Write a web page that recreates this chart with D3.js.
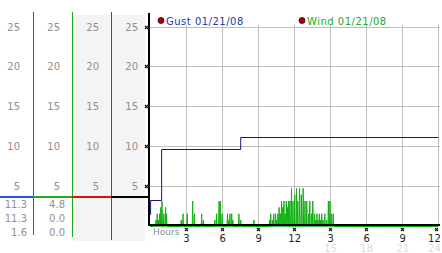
<!DOCTYPE html>
<html><head><meta charset="utf-8">
<script src="https://cdn.jsdelivr.net/npm/d3@7"></script>
<style>html,body{margin:0;padding:0;background:#fff;overflow:hidden}svg{display:block}</style>
</head><body><svg id="c" width="442" height="253"></svg>
<script>
// ---- data ----
const yTicks = [5, 10, 15, 20, 25];
const xTicks = [3, 6, 9, 12, 15, 18, 21, 24];
const xTickLabels = ["3", "6", "9", "12", "3", "6", "9", "12"];
const xTicks24 = [15, 18, 21, 24];
const xTickLabels24 = ["15", "18", "21", "24"];
const legendLabels = ["Gust 01/21/08", "Wind 01/21/08"];
const gustTimes = [0, 0.05, 0.97, 7.55, 24];
const gustValues = [1.6, 3.3, 9.7, 11.3, 11.3];
const windTimes = [0.5, 0.6, 0.7, 0.8, 0.9, 1.0, 1.15, 1.3, 1.38,
  2.6, 2.75, 3.1, 3.55, 3.7, 4.3, 4.45,
  5.4, 5.55, 5.75, 5.85, 6.0, 6.45, 6.55, 6.65, 6.8, 6.9, 7.4, 7.55, 8.65,
  9.95, 10.05, 10.2, 10.3, 10.45, 10.55, 10.65, 10.75, 10.85, 10.95, 11.05,
  11.15, 11.25, 11.35, 11.45, 11.55, 11.65, 11.78, 11.9, 12.05,
  12.2, 12.3, 12.45, 12.6, 12.75, 12.9, 13.05, 13.2, 13.3, 13.45, 13.55,
  13.7, 13.8, 13.9, 14.0, 14.1, 14.2, 14.3, 14.4, 14.55, 14.7, 14.85, 14.98, 15.1, 15.25];
const windValues = [0.8, 1.6, 0.8, 1.6, 2.4, 3.2, 1.6, 2.4, 1.6,
  0.8, 1.6, 1.6, 3.2, 1.6, 1.6, 0.8,
  0.8, 1.6, 3.2, 3.2, 1.6, 1.6, 0.8, 1.6, 1.6, 0.8, 1.6, 0.8, 0.8,
  0.8, 1.6, 0.8, 1.6, 1.6, 0.8, 1.6, 2.4, 1.6, 3.2, 2.4,
  3.2, 1.6, 3.2, 2.4, 3.2, 3.2, 4.8, 3.2, 4.0,
  4.8, 3.2, 4.8, 4.0, 4.8, 3.2, 3.2, 1.6, 3.2, 1.6, 3.2,
  1.6, 0.8, 1.6, 0.8, 1.6, 0.8, 1.6, 0.8, 1.6, 0.8, 3.2, 3.2, 1.6, 1.6];
const readoutGust = ["11.3", "11.3", "1.6"];
const readoutWind = ["4.8", "0.0", "0.0"];

// ---- scales ----
const svg = d3.select("#c");
const FONT = "DejaVu Sans, Verdana, sans-serif";
const W = 442;
const x = d3.scaleLinear().domain([0, 24]).range([150, 438.3]);
const y = d3.scaleLinear().domain([0, 25]).range([226.5, 27.5]);
const crisp = v => Math.round(v) + 0.5;

// ---- left panel ----
svg.append("rect").attr("x", 73).attr("y", 15).attr("width", 72).attr("height", 226).attr("fill", "#f4f4f4");
const colRight = [20, 60, 99, 138];
colRight.forEach(cx => {
  svg.append("g").selectAll("text").data(yTicks).join("text")
    .attr("x", cx).attr("y", d => y(d) + 3)
    .attr("text-anchor", "end").attr("font-family", FONT).attr("font-size", 10)
    .attr("fill", "#909090").text(d => d);
});
const vlines = [{x: 33.5, c: "#2455d8", y2: 235}, {x: 72.5, c: "#22a822", y2: 237}, {x: 111.5, c: "#c42020", y2: 240}];
vlines.forEach(v => svg.append("line").attr("x1", v.x).attr("x2", v.x).attr("y1", 12).attr("y2", v.y2)
  .attr("stroke", v.c).attr("stroke-width", 1));
const hsegs = [{x1: 0, x2: 33, c: "#2455d8"}, {x1: 33, x2: 72, c: "#22aa22"}, {x1: 72, x2: 111, c: "#dd1111"}, {x1: 111, x2: 149, c: "#000"}];
hsegs.forEach(s => svg.append("rect").attr("x", s.x1).attr("y", 196).attr("width", s.x2 - s.x1).attr("height", 2).attr("fill", s.c));
const rowY = [208, 222, 236];
svg.append("g").selectAll("text").data(readoutGust).join("text")
  .attr("x", 27).attr("y", (d, i) => rowY[i]).attr("text-anchor", "end")
  .attr("font-family", FONT).attr("font-size", 10).attr("fill", "#909090").text(d => d);
svg.append("g").selectAll("text").data(readoutWind).join("text")
  .attr("x", 65).attr("y", (d, i) => rowY[i]).attr("text-anchor", "end")
  .attr("font-family", FONT).attr("font-size", 10).attr("fill", "#909090").text(d => d);

// ---- grid ----
svg.append("g").selectAll("line").data(yTicks).join("line")
  .attr("x1", 150).attr("x2", 440).attr("y1", d => crisp(y(d)) - 1).attr("y2", d => crisp(y(d)) - 1)
  .attr("stroke", "#bdbdbd");
svg.append("g").selectAll("line").data(xTicks).join("line")
  .attr("x1", d => crisp(x(d))).attr("x2", d => crisp(x(d))).attr("y1", 25).attr("y2", 226)
  .attr("stroke", "#bdbdbd");

// ---- wind (green) ----
const dt = 0.035;
const windPts = [[0, 0]];
windTimes.forEach((t, i) => { windPts.push([t - dt, 0], [t, windValues[i]], [t + dt, 0]); });
windPts.push([24, 0]);
svg.append("path").datum(windPts)
  .attr("d", d3.line().x(d => x(d[0])).y(d => y(d[1])))
  .attr("fill", "none").attr("stroke", "#10b010").attr("stroke-width", 1);

// ---- gust (blue) ----
const gust = gustTimes.map((t, i) => [t, gustValues[i]]);
svg.append("path").datum(gust)
  .attr("d", d3.line().curve(d3.curveStepAfter).x(d => x(d[0])).y(d => Math.round(y(d[1])) + 0.5))
  .attr("fill", "none").attr("stroke", "#14148c").attr("stroke-width", 1);

// ---- axes (black) ----
svg.append("rect").attr("x", 148).attr("y", 13).attr("width", 2).attr("height", 213).attr("fill", "#000");
svg.append("rect").attr("x", 148).attr("y", 224).attr("width", 292).attr("height", 2).attr("fill", "#000");

// tick markers
const mark = "M-1.5,-1.5L1.5,1.5M1.5,-1.5L-1.5,1.5";
svg.append("g").selectAll("path").data(yTicks).join("path")
  .attr("transform", d => `translate(146.5,${crisp(y(d)) - 1})`).attr("d", mark)
  .attr("stroke", "#111").attr("stroke-width", 1.1).attr("fill", "none");
svg.append("g").selectAll("path").data(xTicks).join("path")
  .attr("transform", d => `translate(${Math.min(crisp(x(d)), 436.5)},229.5)`).attr("d", mark)
  .attr("stroke", "#111").attr("stroke-width", 1.1).attr("fill", "none");

// x labels (kept inside the picture at the right edge)
const clampX = (px, halfW) => Math.min(px, W - 1 - halfW);
svg.append("g").selectAll("text").data(xTicks).join("text")
  .attr("x", (d, i) => clampX(x(d) + 0.5, xTickLabels[i].length * 3.3)).attr("y", 241.5).attr("text-anchor", "middle")
  .attr("font-family", FONT).attr("font-size", 10).attr("fill", "#222")
  .text((d, i) => xTickLabels[i]);
svg.append("g").selectAll("text").data(xTicks24).join("text")
  .attr("x", (d, i) => clampX(x(d) + 0.5, xTickLabels24[i].length * 3.3)).attr("y", 252).attr("text-anchor", "middle")
  .attr("font-family", FONT).attr("font-size", 10).attr("fill", "#dcdcdc")
  .text((d, i) => xTickLabels24[i]);
svg.append("text").attr("x", 153).attr("y", 235).attr("font-family", FONT).attr("font-size", 9)
  .attr("fill", "#8a8a8a").text("Hours");

// ---- legend ----
const legendX = [161, 302];
const legendColors = ["#2038b0", "#22aa22"];
legendLabels.forEach((lab, i) => {
  svg.append("circle").attr("cx", legendX[i]).attr("cy", 20.5).attr("r", 3)
    .attr("fill", "#b00000").attr("stroke", "#300").attr("stroke-width", 0.8);
  svg.append("text").attr("x", legendX[i] + 5).attr("y", 24.5).attr("letter-spacing", 0.5)
    .attr("font-family", FONT).attr("font-size", 10).attr("fill", legendColors[i]).text(lab);
});
</script></body></html>
